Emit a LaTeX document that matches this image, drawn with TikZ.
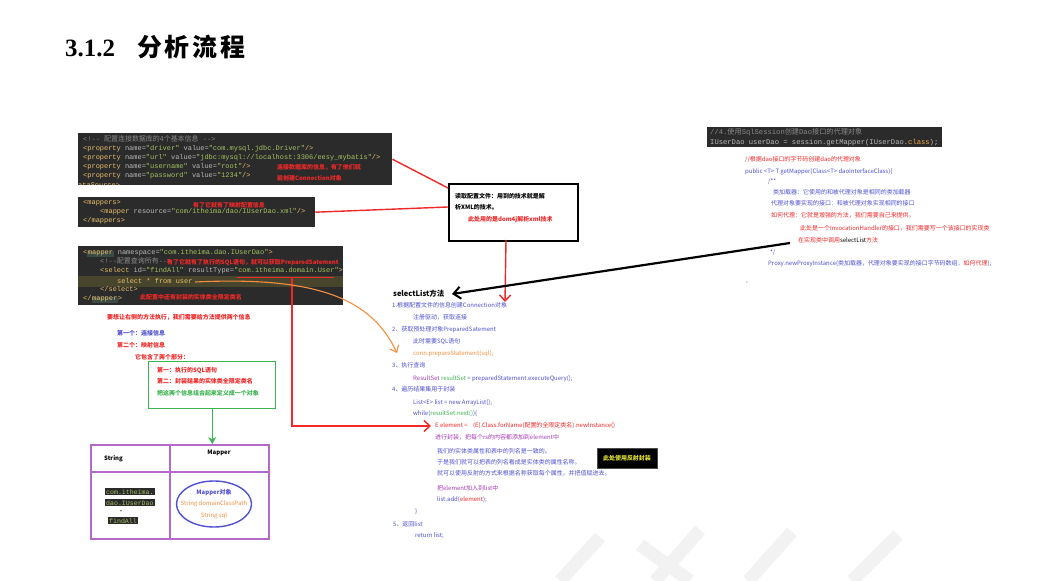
\documentclass[tikz,border=0pt]{standalone}
\usepackage{fontspec}
\setmainfont{Noto Sans CJK SC}
\setmonofont{Liberation Mono}
\newfontfamily\cjk{Noto Sans CJK SC}
\newfontfamily\titleserif{Liberation Serif}
\newfontfamily\titlecjk[LetterSpace=12]{Noto Sans CJK SC}
\usetikzlibrary{arrows.meta,shapes.geometric}
\definecolor{codebg}{HTML}{2B2B2B}
\definecolor{hlc}{HTML}{3A4A44}
\definecolor{rowc}{HTML}{47452C}
\definecolor{tagc}{HTML}{E8BF6A}
\definecolor{attrc}{HTML}{BABABA}
\definecolor{valc}{HTML}{A5C261}
\definecolor{cmtc}{HTML}{8A8A8A}
\definecolor{redc}{HTML}{F02828}
\definecolor{bluec}{HTML}{5050D0}
\definecolor{orgc}{HTML}{F59040}
\definecolor{purc}{HTML}{A83CB8}
\definecolor{grnc}{HTML}{3CB450}
\definecolor{tabc}{HTML}{B468C8}
\definecolor{yelc}{HTML}{E0E030}
\newcommand\ctag[1]{\textcolor{tagc}{#1}}
\newcommand\cattr[1]{\textcolor{attrc}{#1}}
\newcommand\cval[1]{\textcolor{valc}{#1}}
\newcommand\ccmt[1]{\textcolor{cmtc}{#1}}
\newcommand\chl[1]{{\setlength{\fboxsep}{0.6bp}\colorbox{hlc}{#1}}}
\tikzset{
  codebox/.style  = {fill=codebg, anchor=north west, inner sep=0pt},
  codeline/.style = {anchor=base west, inner sep=0pt, text=attrc,
                     font=\ttfamily\fontsize{7}{8}\selectfont},
  txt/.style      = {anchor=base west, inner sep=0pt, font=\fontsize{6}{7}\selectfont},
  redtxt/.style   = {txt, text=redc},
  bluetxt/.style  = {txt, text=bluec},
  purtxt/.style   = {txt, text=purc},
  boldtxt/.style  = {anchor=base west, inner sep=0pt, font=\bfseries\fontsize{6}{7}\selectfont},
  rednote/.style  = {boldtxt, text=redc},
  redline/.style  = {draw=redc, line width=1.4bp},
  redarrow/.style = {redline, -{Straight Barb[length=6bp,width=11bp,line width=1.4bp]}},
  wmark/.style    = {draw=black!5, line width=13bp},
}
\begin{document}
\begin{tikzpicture}[x=1bp,y=-1bp]
  \fill[white] (0,0) rectangle (1041,581);
  \useasboundingbox (0,0) rectangle (1041,581);

  % watermark
  \draw[wmark] (560,581) -- (600,537);
  \draw[wmark] (640,545) -- (690,581);
  \draw[wmark] (700,530) -- (655,581);
  \draw[wmark] (748,581) -- (792,532);
  \draw[wmark] (852,581) -- (898,535);

  % title
  \node[anchor=base west, inner sep=0pt] (title) at (65,57)
       {{\titleserif\bfseries\fontsize{25}{28}\selectfont 3.1.2}\hspace{22bp}{\titlecjk\bfseries\fontsize{25}{28}\selectfont 分析流程}};

  % datasource config
  \node[codebox, minimum width=314bp, minimum height=52bp] (cfg) at (78,133) {};
  \node[codeline] (cfg1) at (83,142) {\ccmt{<!-- {\cjk 配置连接数据库的4个基本信息} -->}};
  \node[codeline] (cfg2) at (83,151) {\ctag{<property} name=\cval{"driver"} value=\cval{"com.mysql.jdbc.Driver"}\ctag{/>}};
  \node[codeline] (cfg3) at (83,160) {\ctag{<property} name=\cval{"url"} value=\cval{"jdbc:mysql://localhost:3306/eesy\_mybatis"}\ctag{/>}};
  \node[codeline] (cfg4) at (83,169) {\ctag{<property} name=\cval{"username"} value=\cval{"root"}\ctag{/>}};
  \node[codeline] (cfg5) at (83,178) {\ctag{<property} name=\cval{"password"} value=\cval{"1234"}\ctag{/>}};
  \begin{scope}
    \clip (78,133) rectangle (392,185);
    \node[codeline] (cfg6) at (78,188) {\ctag{ataSource>}};
  \end{scope}
  \node[rednote] (cfgnote1) at (277,170) {连接数据库的信息，有了他们就};
  \node[rednote] (cfgnote2) at (277,181) {能创建Connection对象};

  % mappers
  \node[codebox, minimum width=237bp, minimum height=30bp] (maps) at (78,197) {};
  \node[codeline] (maps1) at (83,205) {\ctag{<mappers>}};
  \node[codeline] (maps2) at (100,214) {\ctag{<mapper} resource=\cval{"com/itheima/dao/IUserDao.xml"}\ctag{/>}};
  \node[codeline] (maps3) at (83,223) {\ctag{</mappers>}};
  \node[rednote] (mapsnote) at (193,208) {有了它就有了映射配置信息};

  % mapper xml
  \node[codebox, minimum width=265bp, minimum height=59bp] (mxml) at (78,246) {};
  \fill[rowc] (78,276) rectangle (343,287);
  \node[codeline] (mxml1) at (83,255) {\ctag{<\chl{mapper}} namespace=\cval{"com.itheima.dao.IUserDao"}\ctag{>}};
  \node[codeline] (mxml2) at (100,264) {\ccmt{<!--{\cjk 配置查询所有}-->}};
  \node[codeline] (mxml3) at (100,273) {\ctag{<select} id=\cval{"findAll"} resultType=\cval{"com.itheima.domain.User"}\ctag{>}};
  \node[codeline] (mxml4) at (117,284) {\ctag{select * from user}};
  \node[codeline] (mxml5) at (100,292) {\ctag{</select>}};
  \node[codeline] (mxml6) at (83,301) {\ctag{</\chl{mapper}>}};
  \node[rednote] (mxmlnote1) at (167,265) {有了它就有了执行的SQL语句，就可以获取PreparedSatement};
  \node[rednote] (mxmlnote2) at (140,300) {此配置中还有封装的实体类全限定类名};
  \coordinate (ul1) at (237,277);
  \coordinate (ul2) at (334,277);
  \coordinate (sqlend) at (195,282);

  % left notes
  \node[rednote] (need) at (107,319) {要想让右侧的方法执行，我们需要给方法提供两个信息};
  \node[boldtxt, text=bluec] (info1) at (117,335) {第一个：连接信息};
  \node[rednote] (info2) at (117,347) {第二个：映射信息};
  \node[rednote] (info3) at (135,359) {它包含了两个部分：};

  % green box
  \node[draw=grnc, line width=1.4bp, anchor=north west, minimum width=127bp,
        minimum height=47bp, inner sep=0pt] (gbox) at (148,361) {};
  \node[rednote] (g1) at (157,372) {第一：执行的SQL语句};
  \node[rednote] (g2) at (157,383) {第二：封装结果的实体类全限定类名};
  \node[boldtxt, text=grnc] (g3) at (157,395) {把这两个信息组合起来定义成一个对象};

  % mapper table
  \node[draw=tabc, line width=1.6bp, anchor=north west, minimum width=178bp,
        minimum height=94bp, inner sep=0pt] (tab) at (90,444) {};
  \coordinate (tabmidtop) at (170,444);
  \coordinate (tabmidbot) at (170,538);
  \coordinate (tabrowl) at (90,472);
  \coordinate (tabrowr) at (268,472);
  \draw[draw=tabc, line width=1.6bp] (tabmidtop) -- (tabmidbot);
  \draw[draw=tabc, line width=1.6bp] (tabrowl) -- (tabrowr);
  \node[boldtxt, text=black] (colstr) at (104,460) {String};
  \node[boldtxt, text=black, anchor=base] (colmap) at (219,454) {Mapper};
  \node[codeline, fill=codebg, inner sep=1bp, text=valc, font=\ttfamily\fontsize{6.6}{7}\selectfont] (k1) at (105,494) {com.itheima.};
  \node[codeline, fill=codebg, inner sep=1bp, text=valc, font=\ttfamily\fontsize{6.6}{7}\selectfont] (k2) at (105,505) {dao.IUserDao};
  \node[txt, anchor=base] (k3) at (121,513) {•};
  \node[codeline, fill=codebg, inner sep=1bp, text=valc, font=\ttfamily\fontsize{6.6}{7}\selectfont] (k4) at (108,523) {findAll};
  \node[ellipse, draw=bluec, line width=1.4bp, minimum width=75bp, minimum height=46bp] (mobj) at (214,504) {};
  \node[boldtxt, text=bluec, anchor=base] (m1) at (214,494) {Mapper对象};
  \node[txt, text=orgc, anchor=base] (m2) at (214,505) {String domainClassPath};
  \node[txt, text=orgc, anchor=base] (m3) at (214,517) {String sql};

  % read box
  \node[draw=black, line width=2bp, anchor=north west, minimum width=129bp,
        minimum height=57bp, inner sep=0pt] (readbox) at (448,183) {};
  \node[boldtxt, text=black] (read1) at (455,199) {读取配置文件：用到的技术就是解};
  \node[boldtxt, text=black] (read2) at (455,210) {析XML的技术。};
  \node[rednote] (read3) at (468,222) {此处用的是dom4j解析xml技术};
  \coordinate (readin1) at (448,188);
  \coordinate (readin2) at (448,207);
  \coordinate (readout) at (506,240);

  % session code
  \node[codebox, minimum width=235bp, minimum height=20bp] (sess) at (707,127) {};
  \node[codeline, font=\ttfamily\fontsize{7.2}{8}\selectfont] (sess1) at (710,135) {\ccmt{//4.{\cjk 使用}SqlSession{\cjk 创建}Dao{\cjk 接口的代理对象}}};
  \node[codeline, font=\ttfamily\fontsize{7.2}{8}\selectfont] (sess2) at (710,145) {IUserDao userDao = session.getMapper(IUserDao.\textcolor{tagc!70!orange}{class});};

  % proxy text
  \node[redtxt] (p1) at (745,162) {//根据dao接口的字节码创建dao的代理对象};
  \node[bluetxt] (p2) at (745,174) {public <T> T getMapper(Class<T> daoInterfaceClass)\{};
  \node[bluetxt] (p3) at (768,184) {/**};
  \node[bluetxt] (p4) at (773,195) {类加载器：它使用的和被代理对象是相同的类加载器};
  \node[bluetxt] (p5) at (771,206) {代理对象要实现的接口：和被代理对象实现相同的接口};
  \node[redtxt] (p6) at (771,218) {如何代理：它就是增强的方法，我们需要自己来提供。};
  \node[redtxt] (p7) at (800,231) {此处是一个InvocationHandler的接口，我们需要写一个该接口的实现类};
  \node[redtxt] (p8) at (798,243) {在实现类中调用\textcolor{black}{selectList}方法};
  \node[bluetxt] (p9) at (770,255) {*/};
  \node[bluetxt] (p10) at (768,266) {Proxy.newProxyInstance(类加载器，代理对象要实现的接口字节码数组，\textcolor{redc}{如何代理});};
  \node[txt, text=black!60] (p11) at (746,283) {,};
  \coordinate (proxyout) at (790,243);

  % selectList steps
  \node[boldtxt, text=black, font=\bfseries\fontsize{7.5}{8}\selectfont] (sel) at (393,297) {selectList方法};
  \node[bluetxt] (s1) at (392,308) {1.根据配置文件的信息创建Connection对象};
  \node[bluetxt] (s1a) at (413,319) {注册驱动，获取连接};
  \node[bluetxt] (s2) at (392,331) {2、获取预处理对象PreparedSatement};
  \node[bluetxt] (s2a) at (413,343) {此时需要SQL语句};
  \node[txt, text=orgc] (s2b) at (413,355) {conn.prepareStatement(sql);};
  \node[bluetxt] (s3) at (392,367) {3、执行查询};
  \node[bluetxt] (s3a) at (413,380) {\textcolor{purc}{ResultSet} \textcolor{grnc}{resultSet} = preparedStatement.executeQuery();};
  \node[bluetxt] (s4) at (392,391) {4、遍历结果集用于封装};
  \node[bluetxt] (s4a) at (413,404) {List<E> list = new ArrayList();};
  \node[bluetxt] (s4b) at (413,415) {while(\textcolor{grnc}{resultSet.next()})\{};
  \node[redtxt] (s4c) at (435,427) {E element =\hspace{4bp} (E) Class.forName(配置的全限定类名).newInstance()};
  \node[purtxt] (s4d) at (435,439) {进行封装，把每个rs的内容都添加到element中};
  \node[bluetxt] (s4e) at (437,453) {我们的实体类属性和表中的列名是一致的。};
  \node[bluetxt] (s4f) at (437,464) {于是我们就可以把表的列名看成是实体类的属性名称。};
  \node[bluetxt] (s4g) at (437,475) {就可以使用反射的方式来根据名称获取每个属性，并把值赋进去。};
  \node[purtxt] (s4h) at (437,490) {把element加入到list中};
  \node[bluetxt] (s4i) at (437,501) {list.add(\textcolor{redc}{element});};
  \node[bluetxt] (s4j) at (415,513) {\}};
  \node[bluetxt] (s5) at (393,526) {5、返回list};
  \node[bluetxt] (s5a) at (415,537) {return list;};
  \node[fill=black, draw=black!70, minimum width=60bp, minimum height=20bp,
        text=yelc, font=\bfseries\fontsize{6}{7}\selectfont, inner sep=0pt] (refl) at (627,458) {此处使用反射封装};
  \coordinate (selin) at (452,294);
  \coordinate (selin2) at (505,302);
  \coordinate (convin) at (397,353);
  \coordinate (elemin) at (431,426);

  % connectors
  \draw[redline] (cfg.east) -- (readin1);
  \draw[redline] (maps.east) -- (readin2);
  \draw[redarrow] (readout) -- (selin2);
  \draw[line width=2.2bp, -{Straight Barb[length=7bp,width=12bp,line width=2bp]}] (proxyout) -- (selin);
  \draw[draw=redc, line width=1bp] (ul1) -- (ul2);
  \draw[redarrow] (292,277) -- (292,426) -- (elemin);
  \draw[draw=orgc, line width=1.1bp, -{Straight Barb[length=6bp,width=10bp,line width=1.1bp]}]
       (sqlend) .. controls (320,276) and (372,300) .. (convin);
  \draw[draw=grnc, line width=1.4bp, -{Stealth[length=7bp,width=8bp]}] (gbox.south) -- (tab.north -| gbox.south);
\end{tikzpicture}
\end{document}
